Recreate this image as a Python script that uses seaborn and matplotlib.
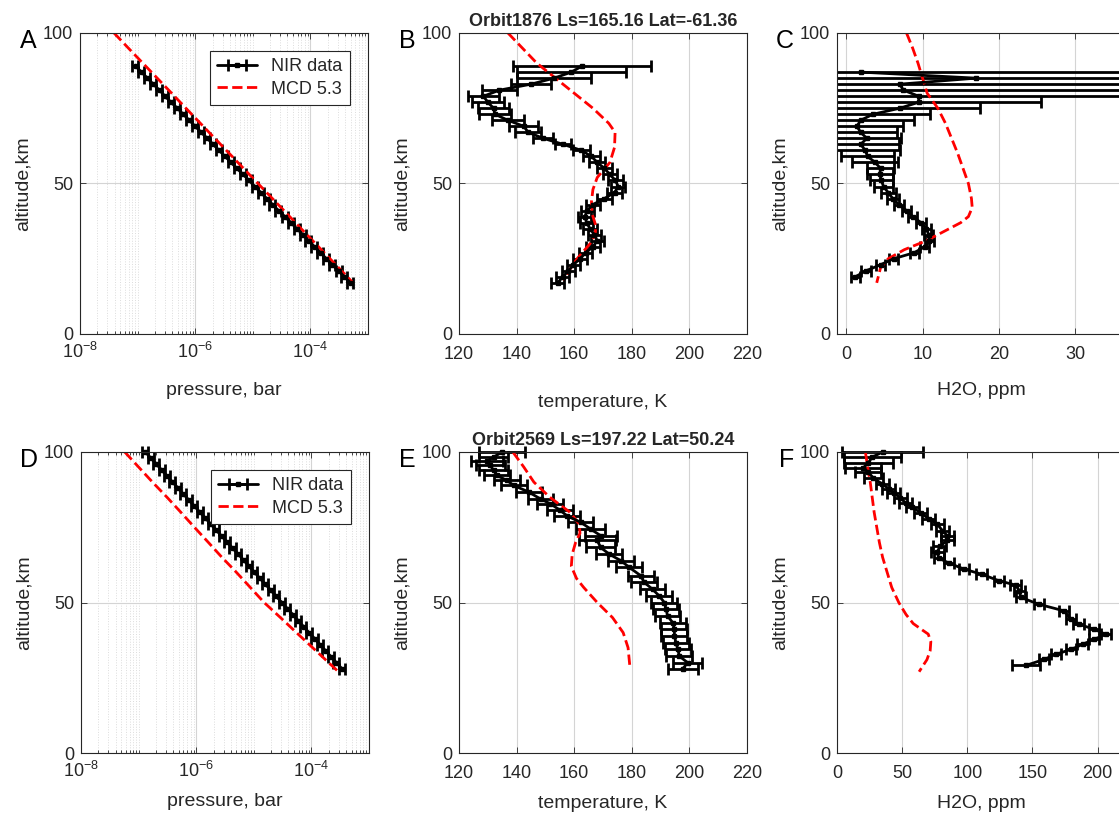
import matplotlib
matplotlib.use("Agg")
import matplotlib.pyplot as plt
import matplotlib.ticker as mticker
import seaborn as sns

# ---------------- Orbit 1876 (top row) ----------------
alt_nir_top = [17, 19, 21, 23, 25, 27, 29, 31, 33, 35, 37, 39, 41, 43, 45, 47, 49, 51, 53,
               55, 57, 59, 61, 63, 65, 67, 69, 71, 73, 75, 77, 79, 81, 83, 85, 87, 89]
p_nir_a = [5.0e-4, 3.9e-4, 3.1e-4, 2.4e-4, 1.9e-4, 1.5e-4, 1.18e-4, 9.3e-5, 7.4e-5, 5.8e-5,
           4.6e-5, 3.6e-5, 2.8e-5, 2.2e-5, 1.75e-5, 1.38e-5, 1.09e-5, 8.6e-6, 6.8e-6, 5.3e-6,
           4.2e-6, 3.3e-6, 2.6e-6, 2.05e-6, 1.62e-6, 1.27e-6, 1.0e-6, 7.9e-7, 6.2e-7, 4.9e-7,
           3.8e-7, 3.0e-7, 2.4e-7, 1.87e-7, 1.48e-7, 1.17e-7, 9.2e-8]
alt_mcd_a = [100, 95, 90, 85, 80, 75, 70, 65, 60, 55, 50, 45, 40, 35, 30, 25, 20, 17]
p_mcd_a = [3.9e-8, 6.9e-8, 1.23e-7, 2.19e-7, 3.9e-7, 6.9e-7, 1.23e-6, 2.19e-6, 3.9e-6,
           6.9e-6, 1.23e-5, 2.19e-5, 3.9e-5, 6.9e-5, 1.23e-4, 2.19e-4, 3.9e-4, 5.5e-4]

t_nir_b = [154.3, 156, 158, 159.7, 162, 164, 166.5, 168, 167, 165.5, 164.3, 163.7, 164.5,
           166.5, 170.5, 174, 175.3, 174.3, 172.4, 170.5, 168, 166, 162.5, 156.2, 149.3,
           144, 142.5, 137, 132.5, 132, 130, 128.5, 134, 145, 153, 159, 162.7]
t_err_b = [2.3, 2.3, 2.3, 2.3, 2.3, 2.3, 2.3, 2.3, 2.3, 2.3, 2.3, 2.3, 2.3, 2.5, 2.5, 2.5,
           2.5, 2.5, 2.5, 2.6, 2.8, 3.0, 3.0, 2.8, 3.5, 4.5, 5.0, 5.5, 5.5, 5.5, 5.5, 5.5,
           6.0, 7.0, 13, 19, 24]
alt_mcd_b = [100, 95, 90, 85, 80, 75, 70, 67, 62, 57, 52, 48, 44, 40, 36, 33, 30, 25, 20, 18]
t_mcd_b = [137, 142, 147, 153.5, 160, 166.5, 172, 174.2, 174, 172.4, 168, 166.5, 166, 166.2,
           167.5, 167.3, 165.5, 161, 157.5, 156]

alt_nir_c = [19, 21, 23, 25, 27, 29, 31, 33, 35, 37, 39, 41, 43, 45, 47, 49, 51, 53, 55,
             57, 59, 61, 63, 65, 67, 69, 71, 73, 75, 77, 79, 81, 83, 85, 87]
h2o_nir_c = [1.2, 2.6, 4.5, 6.2, 8.9, 10.3, 10.9, 10.8, 10.5, 9.8, 8.7, 7.9, 6.9, 6.1, 5.5,
             4.9, 4.6, 4.4, 4.5, 3.8, 2.8, 2.5, 1.9, 2.7, 1.9, 1.4, 1.9, 3.5, 7.0, 9.5, 9.5,
             7.5, 7.0, 17, 2.0]
h2o_err_c = [0.6, 0.6, 0.6, 0.6, 0.6, 0.6, 0.6, 0.6, 0.6, 0.6, 0.6, 0.6, 0.7, 0.8, 1.0, 1.2,
             1.5, 1.7, 1.8, 3.0, 3.5, 4.5, 5.0, 4.5, 4.8, 6.0, 7.0, 7.5, 10.5, 16, 30, 40,
             45, 45, 50]
alt_mcd_c = [100, 95, 90, 85, 80, 75, 70, 65, 60, 55, 50, 45, 42, 39, 37, 35, 33, 31, 28,
             25, 22, 19, 17]
h2o_mcd_c = [7.9, 8.7, 9.4, 10.0, 10.6, 12.0, 13.0, 13.8, 14.6, 15.3, 16.0, 16.4, 16.5,
             16.0, 15.0, 13.5, 12.0, 10.5, 7.6, 5.5, 4.5, 4.2, 4.0]

# ---------------- Orbit 2569 (bottom row) ----------------
alt_nir_d = [28, 30, 32, 34, 36, 38, 40, 42, 44, 46, 48, 50, 52, 54, 56, 58, 60, 62, 64,
             66, 68, 70, 72, 74, 76, 78, 80, 82, 84, 86, 88, 90, 92, 94, 96, 98, 100]
p_nir_d = [3.39e-4, 2.72e-4, 2.19e-4, 1.76e-4, 1.42e-4, 1.14e-4, 9.1e-5, 7.3e-5, 5.9e-5,
           4.75e-5, 3.82e-5, 3.07e-5, 2.47e-5, 1.99e-5, 1.6e-5, 1.28e-5, 1.03e-5, 8.3e-6,
           6.7e-6, 5.4e-6, 4.3e-6, 3.46e-6, 2.78e-6, 2.24e-6, 1.8e-6, 1.45e-6, 1.16e-6,
           9.3e-7, 7.5e-7, 6.0e-7, 4.85e-7, 3.9e-7, 3.13e-7, 2.52e-7, 2.03e-7, 1.63e-7, 1.31e-7]
alt_mcd_d = [100, 95, 90, 85, 80, 75, 70, 65, 60, 55, 50, 45, 40, 35, 30, 27]
p_mcd_d = [5.75e-8, 1.0e-7, 1.74e-7, 3.1e-7, 5.4e-7, 9.3e-7, 1.62e-6, 2.8e-6, 5.0e-6,
           8.7e-6, 1.51e-5, 2.9e-5, 5.5e-5, 1.05e-4, 2.0e-4, 2.95e-4]

alt_nir_e = [28, 30, 32.2, 34.4, 36.7, 38.9, 41.1, 43.3, 45.6, 47.8, 50, 52.2, 54.4, 56.7,
             58.9, 61.7, 63.9, 66.1, 68.3, 70.6, 72.2, 74.4, 76.7, 78.7, 80.6, 82.8, 84.4,
             86.7, 88.9, 90.6, 92.2, 93.9, 95.6, 96.9, 98.3, 100]
t_nir_e = [197.7, 199.4, 196.5, 196, 195.3, 194.8, 194.8, 194.2, 192.4, 191.9, 191.3, 189.5,
           187.2, 184.3, 183.1, 179.1, 176.2, 172.1, 169.2, 168, 169.2, 165.7, 162.2, 157.6,
           155.2, 151.7, 148.3, 144.2, 139, 136.6, 133.1, 132, 130.8, 129.7, 132, 135]
t_err_e = [5.2, 5.0, 4.5, 4.5, 4.5, 4.5, 4.5, 4.5, 4.5, 4.5, 4.5, 4.5, 4.5, 4.5, 4.5, 4.5,
           4.5, 4.5, 5.0, 6.4, 5.5, 5.0, 4.5, 4.5, 4.5, 4.5, 4.5, 4.5, 4.5, 4.5, 4.5, 5.0,
           5.0, 5.5, 5.0, 8.0]
alt_mcd_e = [100, 95, 90, 85, 80, 76, 73, 70, 66, 62, 58, 55, 50, 45, 40, 35, 30, 28]
t_mcd_e = [138.7, 142.5, 146, 151.5, 158.5, 161.8, 162, 160.5, 159.3, 159, 160.8, 163.3,
           168, 173.3, 177, 178.7, 179.2, 179.4]

alt_nir_f = [29.1, 31.1, 32.8, 34.4, 36.1, 37.8, 39.4, 41.1, 42.8, 44.4, 47.2, 49.4, 51.7,
             53.9, 55.8, 57.2, 59.4, 61.1, 63.1, 64.7, 66.7, 68.7, 70.6, 72.2, 73.9, 76.1,
             77.8, 79.8, 81.7, 83.1, 84.7, 86.4, 87.8, 89.4, 91.3, 93.3, 94.7, 96.4, 98.3, 100]
h2o_nir_f = [145, 159, 168, 179.5, 188.5, 197.4, 206.4, 197.4, 185.4, 179.5, 174.4, 155, 141,
             140, 137, 124.4, 111, 97.4, 85.9, 78.2, 76.9, 79, 84.6, 84.6, 80.8, 76.9, 70.5,
             64.1, 57.7, 52.6, 48.7, 43.6, 39.7, 34.6, 28, 24, 20, 24, 27, 35]
h2o_err_f = [11, 4, 4, 4, 4, 4, 4, 4, 4, 4, 4, 4, 4, 4, 4, 4, 4, 4, 4, 4, 5, 5, 5, 5, 5, 5,
             5, 5, 5, 5, 5, 5, 5, 5, 7, 10, 14, 19, 22, 31]
alt_mcd_f = [100, 95, 90, 85, 80, 75, 70, 65, 60, 55, 50, 46, 43, 41, 39.5, 37, 34, 31, 29, 27]
h2o_mcd_f = [21.8, 23.5, 25.5, 27, 28.5, 30.5, 32.5, 35, 38.5, 42, 47.4, 53, 58.5, 65, 70,
             72, 71.5, 69, 66, 63]

p_rel_err = 0.12  # relative pressure uncertainty (stair steps in A / D)

sns.set_style("white")
plt.rcParams["font.family"] = ["Liberation Sans", "DejaVu Sans"]
plt.rcParams["mathtext.fontset"] = "custom"
plt.rcParams["mathtext.rm"] = "Liberation Sans"

DARK = "#262626"
W, H = 1119, 824

fig = plt.figure(figsize=(11.19, 8.24), dpi=100)


def box(left, top, w=288, h=301):
    return [left / W, 1 - (top + h) / H, w / W, h / H]


def style_axes(ax, letter):
    for s in ax.spines.values():
        s.set_color(DARK)
        s.set_linewidth(0.8)
        s.set_visible(True)
    ax.tick_params(which="both", direction="in", top=True, right=True, bottom=True, left=True,
                   color=DARK, labelcolor=DARK, labelsize=13, length=4, width=0.6)
    ax.tick_params(axis="x", which="major", pad=9)
    ax.tick_params(axis="y", which="major", pad=5)
    ax.tick_params(which="minor", length=2)
    ax.grid(True, which="major", color="#d4d4d4", lw=0.8)
    ax.set_axisbelow(True)
    ax.set_ylim(0, 100)
    ax.set_yticks([0, 50, 100])
    ax.set_ylabel("altitude,km", fontsize=14, color=DARK, labelpad=8)
    ax.text(-0.15, 0.95, letter, transform=ax.transAxes, ha="right", va="baseline",
            fontsize=18, color="black")


def nir(ax, x, y, err, clip=False):
    eb = ax.errorbar(x, y, xerr=err, color="black", lw=2, elinewidth=2, capsize=4, capthick=2,
                     marker="s", ms=3.5)
    if not clip:
        for art in eb.get_children():
            art.set_clip_on(False)
    return eb


def mcd(ax, x, y):
    sns.lineplot(x=x, y=y, sort=False, estimator=None, color="red", lw=2, linestyle="--",
                 legend=False, ax=ax)
    return ax.lines[-1]


def pressure_panel(ax, p, alt, p_mcd, alt_m, letter, xlabelpad):
    eb = nir(ax, p, alt, [v * p_rel_err for v in p])
    ln = mcd(ax, p_mcd, alt_m)
    ax.set_xscale("log")
    ax.set_xlim(1e-8, 1e-3)
    ax.xaxis.set_major_locator(mticker.FixedLocator([1e-8, 1e-6, 1e-4]))
    ax.xaxis.set_minor_locator(mticker.LogLocator(base=10, subs=range(1, 10), numticks=50))
    ax.xaxis.set_minor_formatter(mticker.NullFormatter())
    style_axes(ax, letter)
    ax.tick_params(axis="x", which="major", pad=6)
    ax.grid(True, which="minor", axis="x", color="#dcdcdc", lw=0.7, ls=":")
    ax.set_xlabel("pressure, bar", fontsize=14, color=DARK, labelpad=xlabelpad)
    leg = ax.legend([eb, ln], ["NIR data", "MCD 5.3"], loc="upper right", fontsize=13,
                    frameon=True, fancybox=False, framealpha=1, edgecolor=DARK,
                    borderaxespad=1.0, handlelength=2.2, borderpad=0.4, labelspacing=0.3)
    leg.get_frame().set_linewidth(0.8)


# ---- top row ----
ax_a = fig.add_axes(box(80, 33))
pressure_panel(ax_a, p_nir_a, alt_nir_top, p_mcd_a, alt_mcd_a, "A", 14)

ax_b = fig.add_axes(box(459, 33))
nir(ax_b, t_nir_b, alt_nir_top, t_err_b)
mcd(ax_b, t_mcd_b, alt_mcd_b)
ax_b.set_xlim(120, 220)
ax_b.set_xticks([120, 140, 160, 180, 200, 220])
style_axes(ax_b, "B")
ax_b.set_xlabel("temperature, K", fontsize=14, color=DARK, labelpad=22)
ax_b.set_title("Orbit1876 Ls=165.16 Lat=-61.36", fontsize=13, fontweight="bold", pad=5)

ax_c = fig.add_axes(box(837, 33))
nir(ax_c, h2o_nir_c, alt_nir_c, h2o_err_c, clip=True)
mcd(ax_c, h2o_mcd_c, alt_mcd_c)
ax_c.set_xlim(-1.2, 36.5)
ax_c.set_xticks([0, 10, 20, 30])
style_axes(ax_c, "C")
ax_c.set_xlabel("H2O, ppm", fontsize=14, color=DARK, labelpad=13)

# ---- bottom row ----
ax_d = fig.add_axes(box(81, 452))
pressure_panel(ax_d, p_nir_d, alt_nir_d, p_mcd_d, alt_mcd_d, "D", 8)

ax_e = fig.add_axes(box(459, 452))
nir(ax_e, t_nir_e, alt_nir_e, t_err_e)
mcd(ax_e, t_mcd_e, alt_mcd_e)
ax_e.set_xlim(120, 220)
ax_e.set_xticks([120, 140, 160, 180, 200, 220])
style_axes(ax_e, "E")
ax_e.set_xlabel("temperature, K", fontsize=14, color=DARK, labelpad=9)
ax_e.set_title("Orbit2569 Ls=197.22 Lat=50.24", fontsize=13, fontweight="bold", pad=5)

ax_f = fig.add_axes(box(837, 452))
nir(ax_f, h2o_nir_f, alt_nir_f, h2o_err_f)
mcd(ax_f, h2o_mcd_f, alt_mcd_f)
ax_f.set_xlim(0, 221)
ax_f.set_xticks([0, 50, 100, 150, 200])
style_axes(ax_f, "F")
ax_f.set_xlabel("H2O, ppm", fontsize=14, color=DARK, labelpad=9)

fig.savefig("out.png", dpi=100)
